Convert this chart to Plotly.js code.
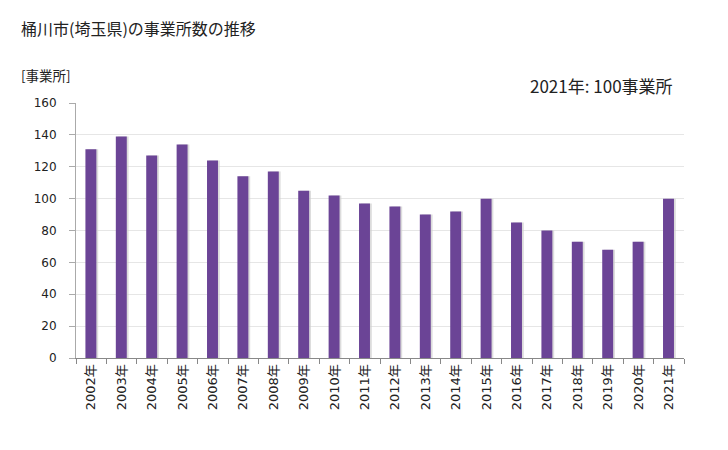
<!DOCTYPE html>
<html><head><meta charset="utf-8">
<script src="https://cdn.plot.ly/plotly-3.0.1.min.js"></script>
<style>body{margin:0;background:#fff}#c{width:728px;height:450px}</style>
</head><body><div id="c"></div>
<script>
const years = ["2002年","2003年","2004年","2005年","2006年","2007年","2008年","2009年","2010年","2011年","2012年","2013年","2014年","2015年","2016年","2017年","2018年","2019年","2020年","2021年"];
const counts = [131,139,127,134,124,114,117,105,102,97,95,90,92,100,85,80,73,68,73,100];
const yTicks = [0,20,40,60,80,100,120,140,160];

const F = '"Noto Sans CJK JP", "Noto Sans", sans-serif';
const T = '"DejaVu Sans", "Noto Sans CJK JP", sans-serif';
const shadow = {type:'bar', x:years, y:counts, width:0.36, offset:-0.13,
  marker:{color:'rgba(205,205,205,0.7)'}, hoverinfo:'skip', showlegend:false};
const main = {type:'bar', x:years, y:counts, width:0.36, offset:-0.19,
  marker:{color:'#6b4496'}, showlegend:false};

Plotly.newPlot('c',[shadow, main],{
  width:728, height:450, barmode:'overlay',
  margin:{l:76, r:44, t:103, b:92},
  paper_bgcolor:'#fff', plot_bgcolor:'#fff',
  font:{family:F, color:'#222', size:12},
  xaxis:{type:'category', tickangle:-90, showline:true, linecolor:'#888', ticks:'outside',
    tickson:'boundaries', ticklen:5, tickcolor:'#888', showgrid:false,
    tickfont:{size:13, family:T, color:'#222'}},
  yaxis:{range:[0,160], tickvals:yTicks, showline:true, linecolor:'#aaa', ticks:'outside',
    ticklen:6, tickcolor:'#aaa', gridcolor:'#e6e6e6', zeroline:false,
    ticklabelstandoff:10, tickfont:{size:12, family:T, color:'#222'}},
  annotations:[
    {text:'桶川市(埼玉県)の事業所数の推移', xref:'paper', yref:'paper', x:-0.093, y:1.294, xanchor:'left', yanchor:'middle', showarrow:false, font:{size:16}},
    {text:'[事業所]', xref:'paper', yref:'paper', x:-0.093, y:1.11, xanchor:'left', yanchor:'middle', showarrow:false, font:{size:13.5}},
    {text:'2021年: 100事業所', xref:'paper', yref:'paper', x:0.985, y:1.067, xanchor:'right', yanchor:'middle', showarrow:false, font:{size:17}}
  ]
},{staticPlot:true});
</script></body></html>
